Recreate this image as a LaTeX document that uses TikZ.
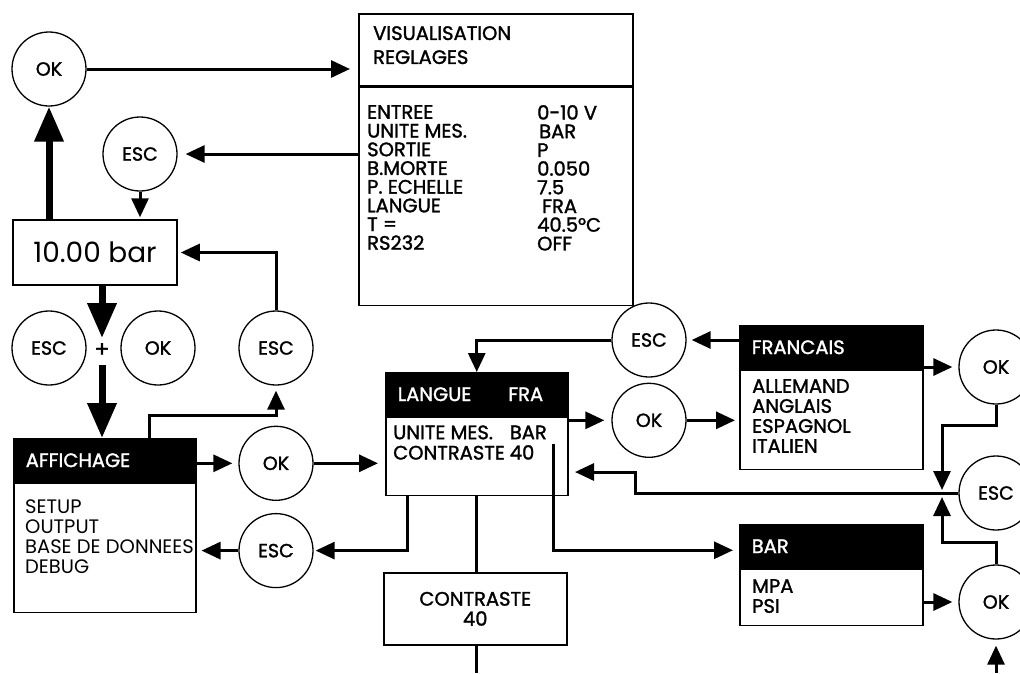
\documentclass[tikz,border=0pt]{standalone}
\usepackage{fontspec}
\setmainfont{Poppins}
\newfontfamily\medfont{Poppins}[FakeBold=1.5]
\usetikzlibrary{arrows.meta, positioning, calc}
\newcommand{\fsz}[2]{\fontsize{#1}{#2}\selectfont}

\begin{document}
\begin{tikzpicture}[
    x=1pt, y=-1pt,
    btn/.style={draw, circle, line width=1.3pt, minimum size=74pt, inner sep=0pt, font=\medfont\fsz{19}{20}},
    frame/.style={draw, line width=1.5pt, inner sep=0pt, anchor=north west},
    head/.style={draw, fill=black, text=white, line width=1.5pt, anchor=north west, inner xsep=12pt, inner ysep=0pt, minimum height=43pt, align=left, font=\medfont\fsz{19.5}{20}},
    txt/.style={inner sep=0pt, align=left, anchor=north west, font=\medfont\fsz{19.5}{20}},
    arr/.style={-{Triangle[length=19pt, width=17pt]}, line width=3pt},
    wire/.style={line width=3pt},
    fat/.style={-{Triangle[length=35pt, width=28pt]}, line width=7pt}
]
\useasboundingbox (0,0) rectangle (1020,673);

% display and settings view
\node[btn] (ok1) at (49,69) {OK};
\node[btn] (esc2) at (140,154) {ESC};
\node[frame, minimum width=164pt, minimum height=65pt, anchor=center, font=\fsz{28}{30}] (disp) at (95,252.5) {10.00 bar};
\node[frame, minimum width=274pt, minimum height=72pt] (vish) at (358,13) {};
\node[txt, font=\medfont\fsz{19.5}{24}] (vishtxt) at (373,26) {VISUALISATION\\REGLAGES};
\node[frame, minimum width=274pt, minimum height=218pt] (visb) at (vish.south west) {};
\node[txt, font=\medfont\fsz{19.5}{18.7}] (visname) at (367,105) {ENTREE\\UNITE MES.\\SORTIE\\B.MORTE\\P. ECHELLE\\LANGUE\\T =\\RS232};
\node[txt, font=\medfont\fsz{19.5}{18.7}] (visval) at (537,105) {0-10 V\\\hspace*{2pt}BAR\\P\\0.050\\7.5\\\hspace*{5pt}FRA\\40.5°C\\OFF};

% ESC + OK
\node[font=\medfont\fsz{22}{24}] (plus) at (102,350) {+};
\node[btn] (esc1) at (49,348) {ESC};
\node[btn] (okp) at (158,348) {OK};
\node[btn] (esc3) at (276,348) {ESC};
\node[btn, below=40pt of esc3] (ok2) {OK};
\node[btn, below=12pt of ok2] (esc4) {ESC};

% affichage menu
\node[head, text width=158pt] (affh) at (13,438) {AFFICHAGE};
\node[frame, minimum width=182pt, minimum height=129pt] (affb) at (affh.south west) {};
\node[txt, font=\fsz{19.5}{20}] (afft) at (25,500) {SETUP\\OUTPUT\\BASE DE DONNEES\\DEBUG};

% langue menu
\node[head, text width=158pt] (lgh) at (385,372) {LANGUE\hspace{37pt}FRA};
\node[frame, minimum width=182pt, minimum height=78pt] (lgb) at (lgh.south west) {};
\node[txt] (lgt) at (393,425) {\begin{tabular}{@{}l@{\hspace{5pt}}l@{}}UNITE MES. & BAR\\CONTRASTE & 40\end{tabular}};
\node[frame, minimum width=183pt, minimum height=72pt, align=center, font=\medfont\fsz{19.5}{20}] (ctr) at (383,572) {CONTRASTE\\40};

% francais menu
\node[btn] (esc5) at (649,340) {ESC};
\node[btn, below=5pt of esc5] (ok3) {OK};
\node[head, text width=159pt] (frh) at (739,325) {FRANCAIS};
\node[frame, minimum width=183pt, minimum height=99pt] (frb) at (frh.south west) {};
\node[txt] (frt) at (752,379) {ALLEMAND\\ANGLAIS\\ESPAGNOL\\ITALIEN};

% bar menu
\node[head, text width=159pt] (barh) at (739,524) {BAR};
\node[frame, minimum width=183pt, minimum height=56pt] (barb) at (barh.south west) {};
\node[txt] (bart) at (752,579) {MPA\\PSI};

% right column
\node[btn] (ok4) at (996,367) {OK};
\node[btn] (esc6) at (996,493) {ESC};
\node[btn] (ok5) at (996,602) {OK};

\coordinate (unit) at (553,444);
\coordinate (jn) at (942,493);
\coordinate (lgback) at (575,472);
\coordinate (ctend) at (476,673);
\coordinate (okin) at (996,673);

\draw[fat] (ok1 |- disp.north) -- (ok1.south);
\draw[fat] (plus |- disp.south) -- ([yshift=12pt]plus.center);
\draw[fat] ([yshift=-15pt]plus.center) -- (plus |- affh.north);
\draw[arr, shorten >=2pt] (esc2.south) -- (esc2 |- disp.north);
\draw[arr, shorten >=8pt] (ok1.east) -- (ok1 -| vish.west);
\draw[arr, shorten >=8pt] (esc2 -| visb.west) -- (esc2.east);
\draw[arr, shorten >=3pt] (esc3.north) |- (disp.east);
\draw[arr, shorten >=5pt] ([xshift=136pt]affh.north west) -- ++(0,-23) -| (esc3.south);
\draw[arr, shorten >=6pt] (ok2 -| affh.east) -- (ok2.west);
\draw[arr, shorten >=7pt] (ok2.east) -- (ok2 -| lgb.west);
\draw[arr, shorten >=5pt] (esc4.west) -- (esc4 -| affb.east);
\draw[arr, shorten >=2pt] ([xshift=22pt]lgb.south west) |- (esc4.east);
\draw[wire] (lgb.south) -- (lgb.south |- ctr.north);
\draw[wire] (ctend |- ctr.south) -- (ctend);
\draw[arr, shorten >=6pt] (unit) |- ([yshift=-4pt]barh.west);
\draw[arr] (esc5.west) -| (lgh.north);
\draw[arr, shorten >=5pt] (esc5 -| frh.west) -- (esc5.east);
\draw[arr, shorten >=7pt] (ok3 -| lgb.east) -- (ok3.west);
\draw[arr, shorten >=4pt] (ok3.east) -- (ok3 -| frb.west);
\draw[arr, shorten >=6pt] (ok4 -| frh.east) -- (ok4.west);
\draw[arr] (ok4.south) -- ++(0,21) -| ([yshift=3pt]jn);
\draw[arr] (ok5.north) -- ++(0,-22) -| ([yshift=-4pt]jn);
\draw[arr] (esc6.west) -| ([xshift=60pt]lgback) -- (lgback);
\draw[arr, shorten >=6pt] (ok5 -| barb.east) -- (ok5.west);
\draw[arr, shorten >=6pt] (okin) -- (ok5.south);
\end{tikzpicture}
\end{document}
